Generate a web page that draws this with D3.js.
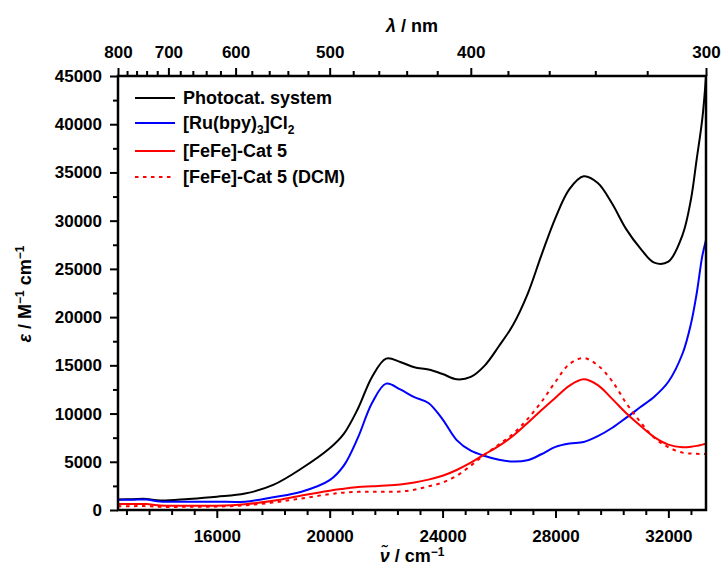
<!DOCTYPE html>
<html>
<head>
<meta charset="utf-8">
<script src="https://cdn.jsdelivr.net/npm/d3@7"></script>
<style>
  body { margin: 0; background: #fff; }
  svg text { font-family: "Liberation Sans", Arial, sans-serif; font-weight: bold; fill: #000; }
</style>
</head>
<body>
<div id="chart-area"></div>
<script>
// wavenumber grid (cm-1) shared by all series
var wavenumbers = [12500, 13000, 13500, 14000, 15000, 16000, 17000, 18000, 19000, 20000, 20500, 21000,
    21500, 22000, 22500, 23000, 23500, 24000, 24500, 25000, 25500, 26000, 26500, 27000, 27500, 28000,
    28500, 29000, 29500, 30000, 30500, 31000, 31500, 32000, 32500, 32800, 33000, 33200, 33333]

var photocat = [1100, 1120, 1150, 980, 1150, 1380, 1700, 2600, 4300, 6400, 7900, 10500,
    13800, 15700, 15350, 14800, 14560, 14100, 13550, 13800, 15000, 17000, 19200, 22300, 26400, 30300,
    33300, 34600, 33900, 31800, 29150, 27150, 25650, 25750, 28500, 32200, 36300, 40500, 44900]

var ruBpy = [1050, 1060, 1090, 880, 860, 860, 860, 1330, 1900, 3100, 4600, 7500,
    11100, 13100, 12500, 11700, 11100, 9400, 7250, 6150, 5600, 5200, 5020, 5150, 5780, 6550,
    6900, 7050, 7650, 8500, 9550, 10650, 11750, 13300, 16200, 19300, 22400, 26300, 28000]

var fefe = [620, 620, 620, 470, 450, 450, 600, 950, 1500, 2000, 2200, 2380,
    2450, 2530, 2650, 2850, 3150, 3550, 4150, 4900, 5800, 6650, 7700, 9000, 10350, 11650,
    12900, 13550, 12950, 11550, 10050, 8750, 7550, 6780, 6500, 6560, 6650, 6780, 6850]

var fefeDcm = [400, 400, 400, 330, 330, 350, 480, 780, 1200, 1650, 1800, 1880,
    1900, 1900, 1920, 2100, 2450, 2850, 3550, 4600, 5750, 6800, 7900, 9400, 11200, 13300,
    15150, 15750, 15000, 13400, 11100, 9150, 7500, 6500, 5950, 5850, 5820, 5810, 5800]

var seriesNames = ["Photocat. system", "[Ru(bpy)3]Cl2", "[FeFe]-Cat 5", "[FeFe]-Cat 5 (DCM)"]
var seriesColors = ["#000000", "#0000ff", "#ff0000", "#ff0000"]

var xMajor = [16000, 20000, 24000, 28000, 32000]
var nmMajor = [800, 700, 600, 500, 400, 300]
var yMajor = [0, 5000, 10000, 15000, 20000, 25000, 30000, 35000, 40000, 45000]

var W = 721, H = 565
var plotLeft = 118, plotRight = 706, plotTop = 76, plotBottom = 510

var svg = d3.select("#chart-area").append("svg")
    .attr("width", W)
    .attr("height", H)

var x = d3.scaleLinear().domain([12500, 1e7 / 300]).range([plotLeft, plotRight])
var y = d3.scaleLinear().domain([0, 45000]).range([plotBottom, plotTop])

// minor tick values
var xMinor = d3.range(12800, 33334, 800).filter(function(v){ return xMajor.indexOf(v) < 0 })
var nmMinor = d3.range(780, 300, -20).filter(function(v){ return v % 100 != 0 })
var yMinor = d3.range(2500, 45000, 5000)

function styleAxis(g){
    g.select(".domain").remove()
    g.selectAll(".tick line").attr("stroke", "#000").attr("stroke-width", 2)
    g.selectAll(".tick text").style("font-size", "17px")
}

// bottom axis
svg.append("g").attr("transform", "translate(0," + plotBottom + ")")
    .call(d3.axisBottom(x).tickValues(xMinor).tickSize(5).tickFormat(""))
    .call(styleAxis)
svg.append("g").attr("transform", "translate(0," + plotBottom + ")")
    .call(d3.axisBottom(x).tickValues(xMajor).tickSize(8).tickPadding(12).tickFormat(d3.format("d")))
    .call(styleAxis)

// top axis (nm)
svg.append("g").attr("transform", "translate(0," + plotTop + ")")
    .call(d3.axisTop(x).tickValues(nmMinor.map(function(n){ return 1e7 / n })).tickSize(5).tickFormat(""))
    .call(styleAxis)
svg.append("g").attr("transform", "translate(0," + plotTop + ")")
    .call(d3.axisTop(x).tickValues(nmMajor.map(function(n){ return 1e7 / n })).tickSize(8).tickPadding(10)
        .tickFormat(function(w){ return Math.round(1e7 / w) }))
    .call(styleAxis)

// left axis
svg.append("g").attr("transform", "translate(" + plotLeft + ",0)")
    .call(d3.axisLeft(y).tickValues(yMinor).tickSize(5).tickFormat(""))
    .call(styleAxis)
svg.append("g").attr("transform", "translate(" + plotLeft + ",0)")
    .call(d3.axisLeft(y).tickValues(yMajor).tickSize(8).tickPadding(8).tickFormat(d3.format("d")))
    .call(styleAxis)

// curves
var allSeries = [photocat, ruBpy, fefe, fefeDcm]
var line = d3.line()
    .x(function(d){ return x(d[0]) })
    .y(function(d){ return y(d[1]) })
    .curve(d3.curveCatmullRom.alpha(0.5))

svg.append("defs").append("clipPath").attr("id", "clip")
    .append("rect").attr("x", plotLeft).attr("y", plotTop)
    .attr("width", plotRight - plotLeft).attr("height", plotBottom - plotTop)

svg.append("g").attr("clip-path", "url(#clip)")
    .selectAll("path")
    .data(allSeries)
    .enter()
    .append("path")
    .attr("d", function(s){ return line(wavenumbers.map(function(w, i){ return [w, s[i]] })) })
    .attr("fill", "none")
    .attr("stroke", function(d, i){ return seriesColors[i] })
    .attr("stroke-width", 2)
    .attr("stroke-dasharray", function(d, i){ return i == 3 ? "3.5,4.5" : null })

// frame
svg.append("rect")
    .attr("x", plotLeft).attr("y", plotTop)
    .attr("width", plotRight - plotLeft).attr("height", plotBottom - plotTop)
    .attr("fill", "none").attr("stroke", "#000").attr("stroke-width", 2.5)

// legend
var legendY = [98, 123, 151, 177]
var legend = svg.append("g")
seriesNames.forEach(function(name, i){
    legend.append("line")
        .attr("x1", 135).attr("x2", 175)
        .attr("y1", legendY[i]).attr("y2", legendY[i])
        .attr("stroke", seriesColors[i]).attr("stroke-width", 2)
        .attr("stroke-dasharray", i == 3 ? "3.5,4.5" : null)
    var t = legend.append("text").attr("x", 183).attr("y", legendY[i] + 6).style("font-size", "18px")
    if (i == 1) {
        t.append("tspan").text("[Ru(bpy)")
        t.append("tspan").attr("dy", 5).style("font-size", "12px").text("3")
        t.append("tspan").attr("dy", -5).text("]Cl")
        t.append("tspan").attr("dy", 5).style("font-size", "12px").text("2")
    } else {
        t.text(name)
    }
})

// axis titles
var topTitle = svg.append("text").attr("x", 412).attr("y", 32)
    .attr("text-anchor", "middle").style("font-size", "18px")
topTitle.append("tspan").style("font-style", "italic").text("λ")
topTitle.append("tspan").text(" / nm")

var bottomTitle = svg.append("text").attr("x", 412).attr("y", 562)
    .attr("text-anchor", "middle").style("font-size", "18px")
bottomTitle.append("tspan").style("font-style", "italic").text("ν\u0303")
bottomTitle.append("tspan").text(" / cm")
bottomTitle.append("tspan").attr("dy", -6).style("font-size", "12px").text("\u22121")

var yTitle = svg.append("text")
    .attr("transform", "translate(31,294) rotate(-90)")
    .attr("text-anchor", "middle").style("font-size", "18px")
yTitle.append("tspan").style("font-style", "italic").text("ε")
yTitle.append("tspan").text(" / M")
yTitle.append("tspan").attr("dy", -7).style("font-size", "12px").text("\u22121")
yTitle.append("tspan").attr("dy", 7).text(" cm")
yTitle.append("tspan").attr("dy", -7).style("font-size", "12px").text("\u22121")
</script>
</body>
</html>
